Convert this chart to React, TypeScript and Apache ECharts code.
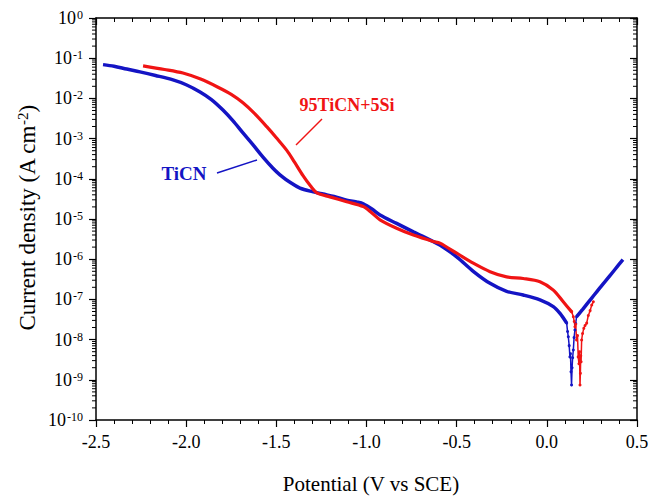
import { useEffect, useRef } from 'react';
import * as echarts from 'echarts';

// Current density values are given as log10(I / A cm^-2)
// ---- TiCN (blue) ----
const potentialTiCN = [-2.461, -2.40, -2.33, -2.256, -2.17, -2.073, -2.00, -1.923, -1.86, -1.796, -1.74, -1.685, -1.63, -1.574, -1.52, -1.48, -1.42, -1.369, -1.30, -1.241, -1.18, -1.11, -1.05, -1.018, -0.97, -0.925, -0.833, -0.74, -0.63, -0.593, -0.50, -0.408, -0.315, -0.223, -0.131, -0.038, 0.036, 0.073, 0.110];
const log10CurrentTiCN = [-1.16, -1.20, -1.27, -1.34, -1.43, -1.54, -1.66, -1.84, -2.03, -2.29, -2.56, -2.86, -3.15, -3.46, -3.73, -3.90, -4.10, -4.23, -4.32, -4.38, -4.44, -4.53, -4.58, -4.62, -4.75, -4.90, -5.11, -5.32, -5.56, -5.65, -5.94, -6.30, -6.60, -6.80, -6.89, -7.01, -7.18, -7.35, -7.59];
const potentialTiCNDip = [0.110, 0.115, 0.119, 0.124, 0.128, 0.131, 0.134, 0.137, 0.140, 0.143, 0.147, 0.151, 0.156, 0.160, 0.165];
const log10CurrentTiCNDip = [-7.59, -7.80, -7.93, -8.15, -8.43, -8.35, -8.80, -9.13, -8.70, -8.45, -8.26, -7.95, -7.76, -7.60, -7.43];
const potentialTiCNAnodic = [0.165, 0.20, 0.25, 0.30, 0.35, 0.40, 0.422];
const log10CurrentTiCNAnodic = [-7.43, -7.24, -6.96, -6.68, -6.41, -6.13, -6.01];

// ---- 95TiCN+5Si (red) ----
const potentialSi = [-2.239, -2.12, -2.018, -1.92, -1.829, -1.75, -1.685, -1.62, -1.552, -1.50, -1.441, -1.40, -1.352, -1.31, -1.275, -1.203, -1.11, -1.018, -0.97, -0.925, -0.833, -0.74, -0.63, -0.593, -0.50, -0.408, -0.315, -0.223, -0.131, -0.038, 0.036, 0.091, 0.138];
const log10CurrentSi = [-1.19, -1.28, -1.37, -1.52, -1.71, -1.90, -2.11, -2.38, -2.71, -2.98, -3.30, -3.58, -3.92, -4.18, -4.35, -4.45, -4.57, -4.69, -4.85, -5.02, -5.23, -5.40, -5.56, -5.60, -5.85, -6.10, -6.31, -6.44, -6.48, -6.56, -6.77, -7.06, -7.31];
const potentialSiDip = [0.138, 0.147, 0.152, 0.156, 0.160, 0.165, 0.170, 0.174, 0.178, 0.181, 0.184, 0.186, 0.188, 0.190, 0.193, 0.198, 0.205, 0.212, 0.221, 0.230, 0.240, 0.249, 0.258];
const log10CurrentSiDip = [-7.31, -7.43, -7.55, -7.68, -7.62, -8.01, -7.90, -8.43, -8.60, -8.30, -9.13, -8.84, -8.40, -8.55, -8.01, -7.85, -7.72, -7.65, -7.59, -7.40, -7.28, -7.14, -7.06];

// ---- axes ----
const xMin = -2.5;
const xMax = 0.5;
const xInterval = 0.5;
const yMinExp = -10;
const yMaxExp = 0;
const yInterval = 1;
const minorFactors = [2, 3, 4, 5, 6, 7, 8, 9];
const decades = [-10, -9, -8, -7, -6, -5, -4, -3, -2, -1];

const BLUE = '#1414c4';
const RED = '#f01414';
const FONT = '"Liberation Serif", "Times New Roman", serif';

function zip(xs: number[], ys: number[]) {
  return xs.map((x, i) => [x, ys[i]]);
}

export default function App() {
  const ref = useRef<HTMLDivElement>(null);
  useEffect(() => {
    if (!ref.current) return;
    const chart = echarts.init(ref.current, undefined, { renderer: 'svg' });

    const minorTickData: number[][] = [];
    decades.forEach((d) => minorFactors.forEach((k) => minorTickData.push([xMin, d + Math.log10(k)])));

    const axisLineStyle = { color: '#000', width: 1.5 };
    const tickStyle = { color: '#000', width: 1.2 };

    const thickLine = (name: string, data: number[][], color: string, width: number) => ({
      name,
      type: 'line',
      data,
      showSymbol: false,
      smooth: 0.3,
      lineStyle: { color, width },
      itemStyle: { color },
      z: 3,
    });
    const thinLine = (name: string, data: number[][], color: string) => ({
      name,
      type: 'line',
      data,
      showSymbol: true,
      symbol: 'circle',
      symbolSize: 3,
      lineStyle: { color, width: 1.5 },
      itemStyle: { color },
      z: 3,
    });

    const xBase = {
      type: 'value',
      min: xMin,
      max: xMax,
      interval: xInterval,
      splitLine: { show: false },
      minorSplitLine: { show: false },
    };
    const yBase = {
      type: 'value',
      min: yMinExp,
      max: yMaxExp,
      interval: yInterval,
      splitLine: { show: false },
    };

    chart.setOption({
      animation: false,
      backgroundColor: '#fff',
      grid: { left: 96, right: 20, top: 18, bottom: 77 },
      xAxis: [
        {
          ...xBase,
          position: 'bottom',
          axisLine: { show: true, onZero: false, lineStyle: axisLineStyle },
          axisTick: { show: true, inside: false, length: 7, lineStyle: tickStyle },
          minorTick: { show: true, splitNumber: 5, length: 4, lineStyle: { color: '#000', width: 1 } },
          axisLabel: {
            fontSize: 18,
            fontFamily: FONT,
            color: '#000',
            margin: 13,
            formatter: (v: number) => v.toFixed(1),
          },
        },
        {
          ...xBase,
          position: 'top',
          axisLine: { show: true, onZero: false, lineStyle: axisLineStyle },
          axisTick: { show: true, inside: true, length: 7, lineStyle: tickStyle },
          minorTick: { show: true, splitNumber: 5, length: 4, lineStyle: { color: '#000', width: 1 } },
          axisLabel: { show: false },
        },
      ],
      yAxis: [
        {
          ...yBase,
          position: 'left',
          axisLine: { show: true, onZero: false, lineStyle: axisLineStyle },
          axisTick: { show: true, inside: false, length: 7, lineStyle: tickStyle },
          axisLabel: {
            margin: 13,
            formatter: (v: number) => `{b|10}{s|${Math.round(v)}}`,
            rich: {
              b: { fontSize: 18, fontFamily: FONT, color: '#000' },
              s: { fontSize: 12, fontFamily: FONT, color: '#000', verticalAlign: 'top', padding: [0, 0, 0, 1] },
            },
          },
        },
        {
          ...yBase,
          position: 'right',
          axisLine: { show: true, onZero: false, lineStyle: axisLineStyle },
          axisTick: { show: true, inside: true, length: 7, lineStyle: tickStyle },
          axisLabel: { show: false },
        },
      ],
      series: [
        {
          type: 'custom',
          name: 'minorTicks',
          silent: true,
          clip: false,
          data: minorTickData,
          renderItem: (_p: any, api: any) => {
            const v = api.value(1);
            const l = api.coord([xMin, v]);
            const r = api.coord([xMax, v]);
            return {
              type: 'group',
              children: [
                { type: 'line', shape: { x1: l[0] - 4, y1: l[1], x2: l[0], y2: l[1] }, style: { stroke: '#000', lineWidth: 1 } },
                { type: 'line', shape: { x1: r[0] - 4, y1: r[1], x2: r[0], y2: r[1] }, style: { stroke: '#000', lineWidth: 1 } },
              ],
            };
          },
        },
        thickLine('TiCN', zip(potentialTiCN, log10CurrentTiCN), BLUE, 3.5),
        thinLine('TiCN dip', zip(potentialTiCNDip, log10CurrentTiCNDip), BLUE),
        thickLine('TiCN anodic', zip(potentialTiCNAnodic, log10CurrentTiCNAnodic), BLUE, 3.5),
        thickLine('95TiCN+5Si', zip(potentialSi, log10CurrentSi), RED, 3.2),
        thinLine('95TiCN+5Si dip', zip(potentialSiDip, log10CurrentSiDip), RED),
      ],
      graphic: [
        {
          type: 'text',
          x: 371,
          y: 484,
          style: { text: 'Potential (V vs SCE)', font: `21px ${FONT}`, fill: '#000', align: 'center', verticalAlign: 'middle' },
        },
        {
          type: 'text',
          x: 27,
          y: 218,
          rotation: Math.PI / 2,
          style: {
            text: '{t|Current density (A cm}{s|-2}{t|)}',
            align: 'center',
            verticalAlign: 'middle',
            rich: {
              t: { font: `23px ${FONT}`, fill: '#000' },
              s: { font: `15px ${FONT}`, fill: '#000', verticalAlign: 'top' },
            },
          },
        },
        {
          type: 'text',
          x: 347,
          y: 105,
          style: { text: '95TiCN+5Si', font: `bold 18px ${FONT}`, fill: RED, align: 'center', verticalAlign: 'middle' },
        },
        { type: 'line', shape: { x1: 322, y1: 119, x2: 296, y2: 145 }, style: { stroke: RED, lineWidth: 1.5 } },
        {
          type: 'text',
          x: 184,
          y: 173,
          style: { text: 'TiCN', font: `bold 19px ${FONT}`, fill: BLUE, align: 'center', verticalAlign: 'middle' },
        },
        { type: 'line', shape: { x1: 217, y1: 173, x2: 257, y2: 160 }, style: { stroke: BLUE, lineWidth: 1.5 } },
      ],
    });
    return () => chart.dispose();
  }, []);
  return <div ref={ref} style={{ position: 'absolute', left: 0, top: 0, width: 657, height: 497 }} />;
}
